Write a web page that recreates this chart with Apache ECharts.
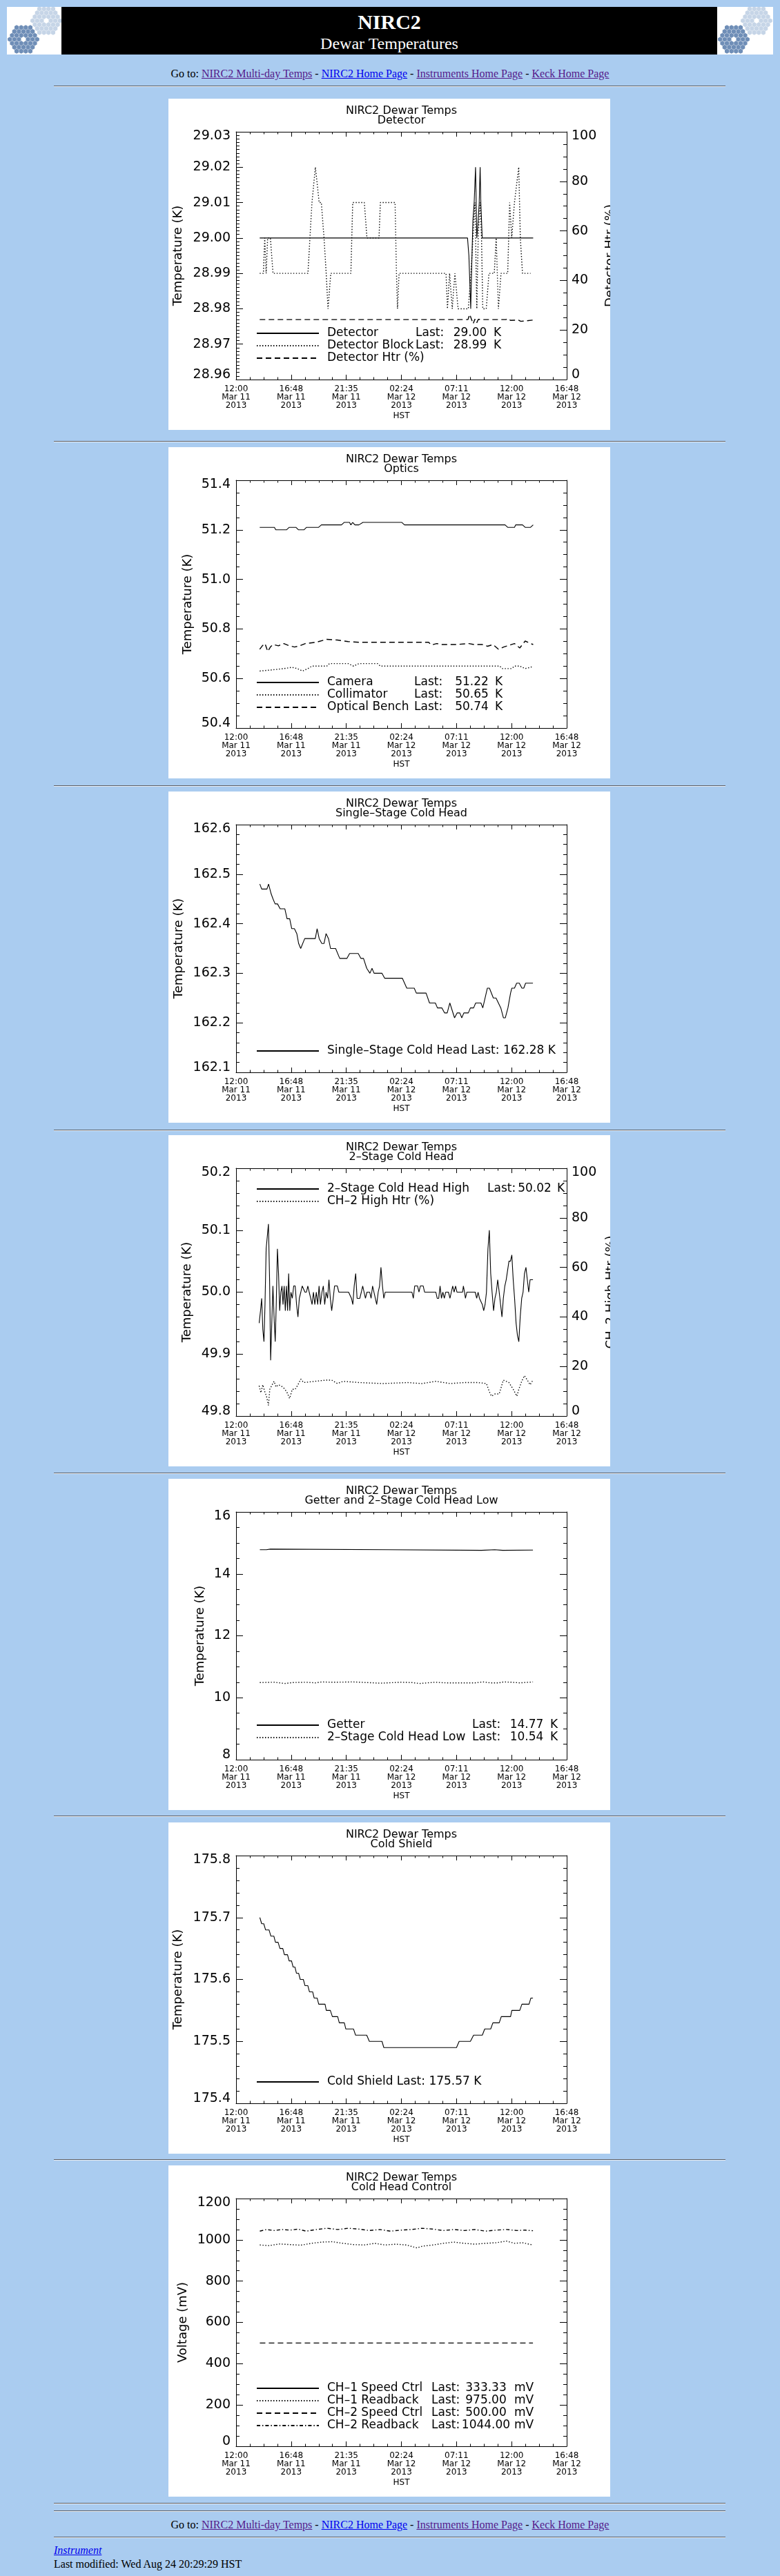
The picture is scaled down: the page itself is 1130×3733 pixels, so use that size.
<!DOCTYPE html>
<html>
<head>
<meta charset="utf-8">
<title>NIRC2 Dewar Temperatures</title>
<script src="https://cdn.jsdelivr.net/npm/echarts@6.0.0/dist/echarts.min.js"></script>
<style>
  body { margin: 0; background: #aaccf0; }
  #page { position: relative; width: 1130px; height: 3733px; overflow: hidden;
          font-family: 'Liberation Serif', 'Times New Roman', serif; color: #000; }
  .logo { position: absolute; top: 10px; height: 69px; background: #fff; }
  .hd { position: absolute; left: 89px; top: 10px; width: 950px; height: 69px; background: #000; color: #fff; text-align: center; }
  .hd .t1 { position: absolute; left: 0; width: 100%; top: 7px; font-size: 30px; line-height: 30px; font-weight: bold; }
  .hd .t2 { position: absolute; left: 0; width: 100%; top: 41px; font-size: 24px; line-height: 24px; }
  .nav { position: absolute; left: 0; width: 1130px; text-align: center; font-size: 16px; line-height: 16px; white-space: nowrap; }
  a { text-decoration: underline; }
  a.v { color: #551a8b; }
  a.n { color: #0000ee; }
  .hr { position: absolute; left: 78px; width: 973px; height: 0; border-top: 1px solid #5c5f66; border-bottom: 1px solid #e9eef4; }
  .panel { position: absolute; left: 244px; width: 640px; height: 480px; background: #fff; }
  .foot { position: absolute; left: 78px; font-size: 16px; line-height: 16px; white-space: nowrap; }
</style>
</head>
<body>
<div id="page">
  <svg class="logo" id="logoL" style="left:10px" width="79" height="69"></svg>
  <div class="hd"><div class="t1">NIRC2</div><div class="t2">Dewar Temperatures</div></div>
  <svg class="logo" id="logoR" style="left:1039px" width="81" height="69"></svg>

  <div class="nav" style="top:99px">Go to: <a class="v" href="#">NIRC2 Multi-day Temps</a> - <a class="n" href="#">NIRC2 Home Page</a> - <a class="v" href="#">Instruments Home Page</a> - <a class="v" href="#">Keck Home Page</a></div>

  <div class="hr" style="top:124px"></div>
  <div class="panel" id="c1" style="top:143px"></div>
  <div class="hr" style="top:639px"></div>
  <div class="panel" id="c2" style="top:648px"></div>
  <div class="hr" style="top:1138px"></div>
  <div class="panel" id="c3" style="top:1147px"></div>
  <div class="hr" style="top:1637px"></div>
  <div class="panel" id="c4" style="top:1645px"></div>
  <div class="hr" style="top:2134px"></div>
  <div class="panel" id="c5" style="top:2143px"></div>
  <div class="hr" style="top:2631px"></div>
  <div class="panel" id="c6" style="top:2641px"></div>
  <div class="hr" style="top:3129px"></div>
  <div class="panel" id="c7" style="top:3138px"></div>
  <div class="hr" style="top:3627px"></div>
  <div class="hr" style="top:3638px"></div>

  <div class="nav" style="top:3651px">Go to: <a class="v" href="#">NIRC2 Multi-day Temps</a> - <a class="n" href="#">NIRC2 Home Page</a> - <a class="v" href="#">Instruments Home Page</a> - <a class="v" href="#">Keck Home Page</a></div>
  <div class="hr" style="top:3676px"></div>
  <div class="foot" style="top:3688px"><a class="n" href="#"><i>Instrument</i></a></div>
  <div class="foot" style="top:3708px">Last modified: Wed Aug 24 20:29:29 HST</div>
</div>

<script type="text/javascript">
// time axis: hours after 12:00 Mar 11 2013 HST
var xTickLabels = ['12:00\nMar 11\n2013', '16:48\nMar 11\n2013', '21:35\nMar 11\n2013',
    '02:24\nMar 12\n2013', '07:11\nMar 12\n2013', '12:00\nMar 12\n2013', '16:48\nMar 12\n2013'];

// Detector
var detHr = [2.06, 20.16, 20.28, 20.44, 20.51, 20.63, 20.74, 20.86, 20.92, 20.97, 21.09, 21.18, 21.26, 21.32, 21.44, 25.88];
var detK = [29.00, 29.00, 28.995, 28.98, 28.99, 29.005, 29.01, 29.02, 29.02, 29.00, 29.005, 29.01, 29.02, 29.01, 29.00, 29.00];
var blockHr = [2.06, 2.38, 2.50, 2.62, 2.75, 2.99, 3.22, 6.26, 6.61, 6.91, 7.24, 7.43, 7.66, 7.85, 8.01, 8.25,
    10.00, 10.16, 11.17, 11.40, 12.45, 12.57, 13.85, 13.97, 14.06, 14.20, 18.29, 18.41, 18.60, 18.83, 19.06, 19.34,
    20.23, 20.46, 20.63, 20.81, 20.97, 21.09, 21.26, 21.38, 21.49, 21.79, 22.03, 22.49, 22.66, 22.85, 23.08, 23.66,
    23.83, 24.01, 24.25, 24.62, 24.76, 24.95, 25.65];
var blockK = [28.99, 28.99, 29.00, 28.99, 29.00, 29.00, 28.99, 28.99, 29.01, 29.02, 29.01, 29.01, 29.00, 28.99, 28.98, 28.99,
    28.99, 29.01, 29.01, 29.00, 29.00, 29.01, 29.01, 28.99, 28.98, 28.99, 28.99, 28.98, 28.99, 28.98, 28.99, 28.98,
    28.98, 28.99, 29.00, 29.01, 28.98, 29.00, 29.01, 29.00, 28.98, 28.98, 28.99, 28.99, 29.00, 28.98, 28.99, 28.99,
    29.01, 29.00, 29.01, 29.02, 29.00, 28.99, 28.99];
var htrHr = [2.06, 8.00, 8.05, 8.12, 20.20, 20.35, 20.50, 20.65, 20.80, 20.95, 21.10, 21.30, 23.50, 23.70, 23.90, 24.60, 24.80, 25.88];
var htrPct = [24.2, 24.2, 24.7, 24.2, 24.2, 26.3, 24.4, 22.5, 24.4, 22.8, 24.3, 24.2, 24.2, 24.6, 23.9, 24.0, 23.5, 24.0];

// Optics
var camHr = [2.06, 3.34, 3.46, 4.39, 4.63, 5.21, 5.44, 5.91, 6.14, 7.19, 7.43, 9.18, 9.41, 9.88, 10.0, 10.16, 10.35, 10.7,
    11.05, 14.44, 14.67, 23.43, 23.66, 24.25, 24.36, 24.95, 25.18, 25.65, 25.88];
var camK = [51.21, 51.21, 51.20, 51.20, 51.21, 51.21, 51.20, 51.20, 51.21, 51.21, 51.22, 51.22, 51.23, 51.23, 51.22, 51.23,
    51.22, 51.22, 51.23, 51.23, 51.22, 51.22, 51.21, 51.21, 51.22, 51.22, 51.21, 51.21, 51.22];
var collHr = [2.06, 3.22, 4.16, 4.86, 5.33, 5.79, 6.26, 6.61, 7.90, 8.13, 9.76, 10.23, 10.70, 12.33, 12.57, 22.96, 23.20,
    24.01, 24.25, 24.71, 25.18, 25.65, 25.88];
var collK = [50.63, 50.635, 50.64, 50.645, 50.64, 50.63, 50.64, 50.65, 50.65, 50.66, 50.66, 50.65, 50.66, 50.66, 50.65,
    50.65, 50.64, 50.64, 50.65, 50.65, 50.64, 50.645, 50.65];
var benchHr = [2.06, 2.29, 2.52, 2.76, 2.99, 3.22, 3.69, 4.16, 4.63, 5.09, 5.56, 6.03, 6.96, 7.90, 8.83, 9.76, 10.70, 11.63,
    16.77, 17.01, 17.47, 17.94, 19.11, 20.28, 20.74, 21.44, 21.91, 22.38, 22.85, 23.31, 23.78, 24.25, 24.71, 25.18, 25.65, 25.88];
var benchK = [50.718, 50.732, 50.741, 50.709, 50.727, 50.737, 50.732, 50.741, 50.732, 50.727, 50.732, 50.741, 50.746, 50.758,
    50.755, 50.749, 50.746, 50.746, 50.746, 50.735, 50.741, 50.737, 50.737, 50.741, 50.737, 50.737, 50.730, 50.737, 50.718,
    50.727, 50.734, 50.741, 50.723, 50.751, 50.741, 50.737];

// Single-stage cold head
var sschHr = [2.07, 2.23, 2.69, 2.83, 3.06, 3.22, 3.40, 3.61, 3.84, 4.25, 4.44, 4.67, 4.85, 5.08, 5.29, 5.45, 5.63, 5.98,
    6.90, 7.06, 7.24, 7.47, 7.66, 7.84, 8.05, 8.23, 8.67, 9.03, 9.66, 9.89, 10.64, 10.87, 11.10, 11.38, 11.66, 11.84, 12.02,
    12.71, 12.94, 14.48, 14.87, 15.52, 15.70, 16.55, 16.85, 17.36, 17.54, 17.93, 18.16, 18.39, 18.62, 19.03, 19.26, 19.49,
    19.66, 19.84, 20.23, 20.41, 20.69, 20.87, 21.33, 21.49, 21.89, 22.07, 22.41, 22.64, 23.06, 23.29, 23.45, 23.68, 23.91,
    24.02, 24.25, 24.44, 24.67, 24.90, 25.06, 25.22, 25.86];
var sschK = [162.48, 162.47, 162.47, 162.48, 162.46, 162.45, 162.44, 162.44, 162.43, 162.43, 162.41, 162.41, 162.39, 162.39,
    162.38, 162.36, 162.35, 162.37, 162.37, 162.39, 162.37, 162.36, 162.36, 162.38, 162.37, 162.35, 162.35, 162.33, 162.33,
    162.34, 162.34, 162.33, 162.33, 162.31, 162.30, 162.31, 162.30, 162.30, 162.29, 162.29, 162.27, 162.27, 162.26, 162.26,
    162.24, 162.24, 162.23, 162.23, 162.22, 162.22, 162.24, 162.21, 162.22, 162.22, 162.21, 162.22, 162.22, 162.23, 162.23,
    162.24, 162.24, 162.23, 162.27, 162.27, 162.25, 162.25, 162.23, 162.21, 162.21, 162.23, 162.26, 162.27, 162.27, 162.28,
    162.28, 162.27, 162.27, 162.28, 162.28];

// 2-stage cold head
var ch2Hr = [2.01, 2.13, 2.23, 2.33, 2.43, 2.52, 2.62, 2.72, 2.82, 2.92, 3.01, 3.11, 3.21, 3.31, 3.41, 3.50, 3.60, 3.70,
    3.80, 3.90, 4.00, 4.09, 4.19, 4.29, 4.39, 4.49, 4.58, 4.68, 4.78, 4.90, 5.02, 5.15, 5.27, 5.39, 5.51, 5.64, 5.76, 5.88,
    6.00, 6.13, 6.25, 6.37, 6.50, 6.62, 6.74, 6.86, 6.99, 7.11, 7.23, 7.35, 7.48, 7.60, 7.72, 7.84, 7.97, 8.09, 8.21, 8.33,
    8.46, 8.58, 8.82, 8.95, 9.80, 10.05, 10.17, 10.29, 10.42, 10.54, 10.78, 10.91, 11.03, 11.15, 11.27, 11.40, 11.64, 11.76,
    11.89, 12.01, 12.13, 12.25, 12.38, 12.50, 12.62, 12.75, 12.87, 12.99, 15.32, 15.44, 15.56, 15.81, 15.93, 16.05, 16.30,
    16.42, 17.40, 17.52, 17.65, 17.77, 17.89, 18.01, 18.14, 18.26, 18.50, 18.63, 18.75, 18.87, 18.99, 19.12, 19.24, 19.73,
    19.80, 19.90, 19.98, 20.10, 20.83, 20.96, 21.08, 21.20, 21.32, 21.45, 21.57, 21.69, 21.81, 21.94, 22.06, 22.18, 22.30,
    22.43, 22.55, 22.67, 22.79, 22.92, 23.04, 23.16, 23.28, 23.41, 23.53, 23.65, 23.77, 23.90, 24.02, 24.14, 24.26, 24.39,
    24.51, 24.63, 24.75, 24.88, 25.00, 25.12, 25.25, 25.37, 25.49, 25.61, 25.86];
var ch2K = [49.95, 49.97, 49.99, 49.94, 49.92, 49.98, 50.07, 50.09, 50.11, 50.02, 49.89, 49.95, 50.01, 49.96, 49.92, 49.98,
    50.07, 50.03, 49.97, 50.00, 50.01, 49.98, 50.01, 49.97, 50.01, 49.97, 50.03, 49.97, 50.00, 49.99, 50.01, 50.01, 49.98,
    49.96, 49.99, 50.00, 50.01, 50.01, 50.00, 50.00, 50.01, 50.00, 49.99, 49.98, 50.00, 49.98, 50.00, 49.98, 50.01, 49.98,
    50.00, 50.01, 49.98, 50.00, 49.99, 50.02, 49.99, 49.97, 49.99, 50.01, 50.01, 50.00, 50.00, 49.99, 49.98, 50.01, 50.03,
    49.99, 49.99, 50.00, 50.01, 50.00, 49.99, 50.00, 50.00, 49.99, 50.01, 50.00, 49.99, 49.98, 50.00, 50.01, 50.04, 50.01,
    49.99, 50.00, 50.00, 49.99, 50.01, 50.01, 50.00, 50.01, 50.01, 50.00, 50.00, 49.99, 49.99, 50.01, 49.99, 50.00, 49.99,
    50.00, 50.00, 49.99, 50.00, 50.01, 50.00, 50.01, 50.00, 50.00, 50.01, 50.00, 49.99, 50.00, 50.00, 49.99, 50.00, 49.99,
    49.99, 49.98, 49.97, 49.98, 50.00, 50.07, 50.10, 50.03, 50.00, 49.97, 49.99, 50.00, 50.02, 50.00, 49.98, 49.96, 49.99,
    50.01, 50.02, 50.02, 50.05, 50.05, 50.06, 50.02, 49.99, 49.95, 49.93, 49.92, 49.96, 49.99, 50.00, 50.03, 50.04, 50.02,
    50.00, 50.02, 50.02];
var ch2HtrHr = [2.01, 2.16, 2.33, 2.50, 2.65, 2.82, 2.94, 3.14, 3.31, 3.48, 3.68, 3.92, 4.17, 4.41, 4.66, 4.90, 5.15, 5.39,
    5.64, 5.88, 6.86, 7.84, 8.33, 8.82, 9.31, 10.78, 12.75, 14.95, 16.18, 17.40, 18.63, 19.85, 21.08, 21.81, 22.06, 22.25,
    22.55, 22.92, 23.28, 23.77, 24.14, 24.46, 24.63, 24.88, 25.12, 25.37, 25.61, 25.86];
var ch2HtrPct = [12.2, 9.4, 12.6, 9.8, 8.0, 4.3, 10.8, 12.6, 14.0, 11.7, 12.6, 12.2, 11.2, 9.8, 7.1, 10.8, 10.8, 12.6,
    14.9, 13.5, 14.0, 14.5, 14.5, 13.1, 14.0, 13.5, 13.1, 13.5, 13.1, 14.0, 13.1, 13.5, 13.5, 13.1, 9.8, 8.0,
    8.9, 8.9, 14.5, 13.5, 10.8, 8.0, 10.8, 14.0, 16.3, 14.5, 12.6, 14.5];

// Getter and 2-stage low
var getterHr = [2.07, 2.64, 2.76, 2.99, 3.10, 13.22, 13.33, 21.38, 21.49, 22.53, 22.64, 23.22, 23.33, 25.86];
var getterK = [14.78, 14.78, 14.80, 14.80, 14.78, 14.78, 14.76, 14.76, 14.78, 14.78, 14.76, 14.76, 14.78, 14.77];
var lowHr = [2.07, 3.33, 4.25, 4.94, 6.09, 6.90, 7.47, 8.39, 10.23, 11.38, 12.53, 13.22, 14.37, 15.29, 15.98, 16.67,
    17.36, 18.28, 19.43, 20.80, 21.49, 22.18, 22.87, 23.33, 24.02, 24.71, 25.86];
var lowK = [10.49, 10.50, 10.46, 10.49, 10.50, 10.48, 10.51, 10.50, 10.51, 10.49, 10.47, 10.48, 10.50, 10.49, 10.46, 10.48,
    10.50, 10.48, 10.48, 10.48, 10.51, 10.48, 10.48, 10.51, 10.50, 10.48, 10.51];

// Cold shield
var shieldHr = [2.07, 2.14, 2.23, 2.41, 2.57, 2.87, 3.03, 3.29, 3.43, 3.66, 3.82, 4.07, 4.21, 4.48, 4.62, 4.83, 4.97, 5.13,
    5.26, 5.45, 5.59, 5.86, 6.00, 6.25, 6.39, 6.67, 6.80, 7.06, 7.20, 7.75, 7.86, 8.21, 8.39, 8.85, 8.99, 9.43, 9.56, 10.23,
    10.41, 11.38, 11.61, 12.71, 12.87, 19.20, 19.43, 20.41, 20.69, 21.45, 21.66, 22.18, 22.37, 22.92, 23.10, 23.91, 24.02,
    24.71, 24.90, 25.52, 25.68, 25.86];
var shieldK = [175.70, 175.70, 175.69, 175.69, 175.68, 175.68, 175.67, 175.67, 175.66, 175.66, 175.65, 175.65, 175.64, 175.64,
    175.63, 175.63, 175.62, 175.62, 175.61, 175.61, 175.60, 175.60, 175.59, 175.59, 175.58, 175.58, 175.57, 175.57, 175.56,
    175.56, 175.55, 175.55, 175.54, 175.54, 175.53, 175.53, 175.52, 175.52, 175.51, 175.51, 175.50, 175.50, 175.49, 175.49,
    175.50, 175.50, 175.51, 175.51, 175.52, 175.52, 175.53, 175.53, 175.54, 175.54, 175.55, 175.55, 175.56, 175.56, 175.57,
    175.57];

// Cold head control
var spd1Hr = [];
var spd1mV = [];
var rb1Hr = [2.07, 2.87, 3.79, 4.71, 5.63, 6.55, 7.47, 8.39, 9.31, 10.23, 11.15, 12.07, 12.99, 13.91, 14.83, 15.75, 16.21,
    17.13, 18.05, 18.97, 19.89, 20.80, 21.72, 22.64, 23.56, 24.25, 24.94, 25.86];
var rb1mV = [975, 972, 980, 977, 974, 983, 989, 991, 983, 977, 975, 983, 975, 979, 975, 961, 969, 975, 983, 989, 983, 979,
    983, 986, 994, 983, 986, 975];
var spd2Hr = [2.07, 25.86];
var spd2mV = [500, 500];
var rb2Hr = [2.07, 2.64, 3.33, 4.02, 4.71, 5.40, 6.09, 7.01, 7.93, 8.85, 9.77, 10.69, 11.61, 12.53, 13.45, 14.37, 15.29,
    16.21, 17.13, 18.05, 18.97, 19.89, 20.80, 21.72, 22.64, 23.56, 24.48, 25.17, 25.86];
var rb2mV = [1042, 1050, 1045, 1050, 1047, 1052, 1042, 1050, 1056, 1050, 1056, 1052, 1045, 1050, 1042, 1047, 1050, 1056,
    1052, 1045, 1050, 1045, 1050, 1042, 1047, 1050, 1045, 1047, 1044];

var FONT = "'DejaVu Sans', sans-serif";
var INK = '#000';
var DOT = [1.4, 2.6];
var DASH = [8, 5];
var DASHDOT = [5, 3, 1.4, 3];

var charts = [
    {id: 'c1', sub: 'Detector', y: {min: 28.96, max: 29.03, step: 0.01, minor: 10, dec: 2, name: 'Temperature (K)', gap: 75},
     right: {min: 0, max: 100, step: 20, minor: 4, name: 'Detector Htr (%)', gap: 54},
     legend: {bottom: 95}, cols: [128, 56, 46, 11],
     series: [
        {name: 'Detector', t: detHr, v: detK, dash: 'solid', last: '29.00', unit: 'K'},
        {name: 'Detector Block', t: blockHr, v: blockK, dash: DOT, last: '28.99', unit: 'K'},
        {name: 'Detector Htr (%)', t: htrHr, v: htrPct, dash: DASH, axis: 1}
     ]},
    {id: 'c2', sub: 'Optics', y: {min: 50.4, max: 51.4, step: 0.2, minor: 4, dec: 1, name: 'Temperature (K)', gap: 61},
     legend: {bottom: 94}, cols: [126, 61, 45, 11],
     series: [
        {name: 'Camera', t: camHr, v: camK, dash: 'solid', last: '51.22', unit: 'K'},
        {name: 'Collimator', t: collHr, v: collK, dash: DOT, last: '50.65', unit: 'K'},
        {name: 'Optical Bench', t: benchHr, v: benchK, dash: DASH, last: '50.74', unit: 'K'}
     ]},
    {id: 'c3', sub: 'Single\u2013Stage Cold Head', y: {min: 162.1, max: 162.6, step: 0.1, minor: 5, dec: 1, name: 'Temperature (K)', gap: 74},
     legend: {bottom: 95}, cols: null,
     series: [
        {name: 'Single\u2013Stage Cold Head', t: sschHr, v: sschK, dash: 'solid', last: '162.28', unit: 'K'}
     ]},
    {id: 'c4', sub: '2\u2013Stage Cold Head', y: {min: 49.8, max: 50.2, step: 0.1, minor: 5, dec: 1, name: 'Temperature (K)', gap: 62},
     right: {min: 0, max: 100, step: 20, minor: 4, name: 'CH\u20132 High Htr (%)', gap: 55},
     legend: {top: 69}, cols: [232, 46, 45, 10],
     series: [
        {name: '2\u2013Stage Cold Head High', t: ch2Hr, v: ch2K, dash: 'solid', last: '50.02', unit: 'K'},
        {name: 'CH\u20132 High Htr (%)', t: ch2HtrHr, v: ch2HtrPct, dash: DOT, axis: 1}
     ]},
    {id: 'c5', sub: 'Getter and 2\u2013Stage Cold Head Low', y: {min: 8, max: 16, step: 2, minor: 4, dec: 0, name: 'Temperature (K)', gap: 43},
     legend: {bottom: 96}, cols: [210, 56, 46, 11],
     series: [
        {name: 'Getter', t: getterHr, v: getterK, dash: 'solid', last: '14.77', unit: 'K'},
        {name: '2\u2013Stage Cold Head Low', t: lowHr, v: lowK, dash: DOT, last: '10.54', unit: 'K'}
     ]},
    {id: 'c6', sub: 'Cold Shield', y: {min: 175.4, max: 175.8, step: 0.1, minor: 5, dec: 1, name: 'Temperature (K)', gap: 75},
     legend: {bottom: 95}, cols: null,
     series: [
        {name: 'Cold Shield', t: shieldHr, v: shieldK, dash: 'solid', last: '175.57', unit: 'K'}
     ]},
    {id: 'c7', sub: 'Cold Head Control', y: {min: 0, max: 1200, step: 200, minor: 4, dec: 0, name: 'Voltage (mV)', gap: 68},
     legend: {bottom: 94}, cols: [151, 45, 68, 7],
     series: [
        {name: 'CH\u20131 Speed Ctrl', t: spd1Hr, v: spd1mV, dash: 'solid', last: '333.33', unit: 'mV'},
        {name: 'CH\u20131 Readback', t: rb1Hr, v: rb1mV, dash: DOT, last: '975.00', unit: 'mV'},
        {name: 'CH\u20132 Speed Ctrl', t: spd2Hr, v: spd2mV, dash: DASH, last: '500.00', unit: 'mV'},
        {name: 'CH\u20132 Readback', t: rb2Hr, v: rb2mV, dash: DASHDOT, last: '1044.00', unit: 'mV'}
     ]}
];

function yAxisOf(a, pos, labels) {
    return {
        type: 'value', position: pos, min: a.min, max: a.max, interval: a.step,
        axisLine: {show: true, onZero: false, lineStyle: {color: INK, width: 1}},
        axisTick: {show: true, inside: true, length: 10, lineStyle: {color: INK}},
        minorTick: {show: true, splitNumber: a.minor, length: 5, lineStyle: {color: INK}},
        splitLine: {show: false}, minorSplitLine: {show: false},
        axisLabel: {
            show: labels, color: INK, fontFamily: FONT, fontSize: 19, lineHeight: 13, margin: pos === 'left' ? 8 : 7,
            showMinLabel: true, showMaxLabel: true,
            verticalAlignMinLabel: 'bottom', verticalAlignMaxLabel: 'top',
            formatter: function (v) { return v.toFixed(a.dec || 0); }
        },
        name: labels ? a.name : '', nameLocation: 'middle', nameGap: a.gap, nameRotate: 90, nameMoveOverlap: false,
        nameTextStyle: {color: INK, fontFamily: FONT, fontSize: 18}
    };
}

function xAxisOf(pos) {
    var bottom = pos === 'bottom';
    return {
        type: 'value', position: pos, min: 0, max: 28.8, interval: 4.8,
        axisLine: {show: true, onZero: false, lineStyle: {color: INK, width: 1}},
        axisTick: {show: true, inside: true, length: 7, lineStyle: {color: INK}},
        minorTick: {show: true, splitNumber: 4, length: 3.5, lineStyle: {color: INK}},
        splitLine: {show: false}, minorSplitLine: {show: false},
        axisLabel: {
            show: bottom, color: INK, fontFamily: FONT, fontSize: 12, lineHeight: 12, margin: 8,
            showMinLabel: true, showMaxLabel: true, hideOverlap: false,
            formatter: function (v) { return xTickLabels[Math.round(v / 4.8)]; }
        },
        name: bottom ? 'HST' : '', nameLocation: 'middle', nameGap: 47, nameMoveOverlap: false,
        nameTextStyle: {color: INK, fontFamily: FONT, fontSize: 12}
    };
}

function build(c) {
    var chart = echarts.init(document.getElementById(c.id), null, {renderer: 'canvas'});
    var byName = {};
    c.series.forEach(function (s) { byName[s.name] = s; });
    var rich = {
        s: {width: 7},
        n: {width: c.cols ? c.cols[0] : null},
        l: {width: c.cols ? c.cols[1] : null},
        v: {width: c.cols ? c.cols[2] : null, align: 'right'},
        u: {padding: [0, 0, 0, c.cols ? c.cols[3] : 0]},
        p: {}
    };
    Object.keys(rich).forEach(function (k) {
        rich[k].fontFamily = FONT; rich[k].fontSize = 17; rich[k].lineHeight = 18; rich[k].color = INK;
    });
    var legend = {
        orient: 'vertical', left: 127, itemWidth: 90, itemHeight: 10, itemGap: 0, padding: 0,
        selectedMode: false, data: c.series.map(function (s) { return s.name; }),
        itemStyle: {color: 'rgba(0,0,0,0)', borderColor: 'rgba(0,0,0,0)', borderWidth: 0, opacity: 0},
        textStyle: {fontFamily: FONT, fontSize: 17, lineHeight: 18, color: INK, rich: rich},
        formatter: function (name) {
            var s = byName[name];
            if (!s.last) return '{s| }{n|' + name + '}';
            if (!c.cols) return '{s| }{p|' + name + ' Last: ' + s.last + ' ' + s.unit + '}';
            return '{s| }{n|' + name + '}{l|Last:}{v|' + s.last + '}{u|' + s.unit + '}';
        }
    };
    if (c.legend.top != null) legend.top = c.legend.top; else legend.bottom = c.legend.bottom;

    var yAxes = [yAxisOf(c.y, 'left', true)];
    yAxes.push(c.right ? yAxisOf(c.right, 'right', true) : yAxisOf(c.y, 'right', false));

    chart.setOption({
        animation: false,
        backgroundColor: '#fff',
        grid: {left: 98, top: 48, width: 479, height: 359, containLabel: false, outerBoundsMode: 'none'},
        graphic: [
            {type: 'text', x: 337.5, y: 18, style: {text: 'NIRC2 Dewar Temps', fill: INK, font: '16px ' + FONT,
                align: 'center', verticalAlign: 'middle', textAlign: 'center', textVerticalAlign: 'middle'}},
            {type: 'text', x: 337.5, y: 32, style: {text: c.sub, fill: INK, font: '16px ' + FONT,
                align: 'center', verticalAlign: 'middle', textAlign: 'center', textVerticalAlign: 'middle'}}
        ],
        legend: legend,
        xAxis: [xAxisOf('bottom'), xAxisOf('top')],
        yAxis: yAxes,
        series: c.series.map(function (s) {
            return {
                name: s.name, type: 'line', xAxisIndex: 0, yAxisIndex: s.axis || 0,
                symbol: 'none', showSymbol: false, silent: true,
                lineStyle: {color: INK, width: s.dash === 'solid' ? 1.1 : 1.4, type: s.dash},
                itemStyle: {color: INK},
                data: s.t.map(function (h, i) { return [h, s.v[i]]; })
            };
        })
    });
}

charts.forEach(build);

// Keck segmented-mirror logos
function drawLogo(svg) {
    var ns = 'http://www.w3.org/2000/svg';
    var step = 6.6, rad = 3.6;
    [[57, 20, '#c6d5e7'], [24, 47, '#6f8eb7']].forEach(function (cl) {
        for (var q = -3; q <= 3; q++) {
            for (var r = -3; r <= 3; r++) {
                var d = (Math.abs(q) + Math.abs(r) + Math.abs(q + r)) / 2;
                if (d < 1 || d > 3) continue;
                var cx = cl[0] + step * (q + r / 2), cy = cl[1] + step * r * 0.866;
                var pts = [];
                for (var k = 0; k < 6; k++) {
                    var a = Math.PI / 6 + k * Math.PI / 3;
                    pts.push((cx + rad * Math.cos(a)).toFixed(1) + ',' + (cy + rad * Math.sin(a)).toFixed(1));
                }
                var p = document.createElementNS(ns, 'polygon');
                p.setAttribute('points', pts.join(' '));
                p.setAttribute('fill', cl[2]);
                svg.appendChild(p);
            }
        }
    });
}
drawLogo(document.getElementById('logoL'));
drawLogo(document.getElementById('logoR'));
</script>
</body>
</html>
